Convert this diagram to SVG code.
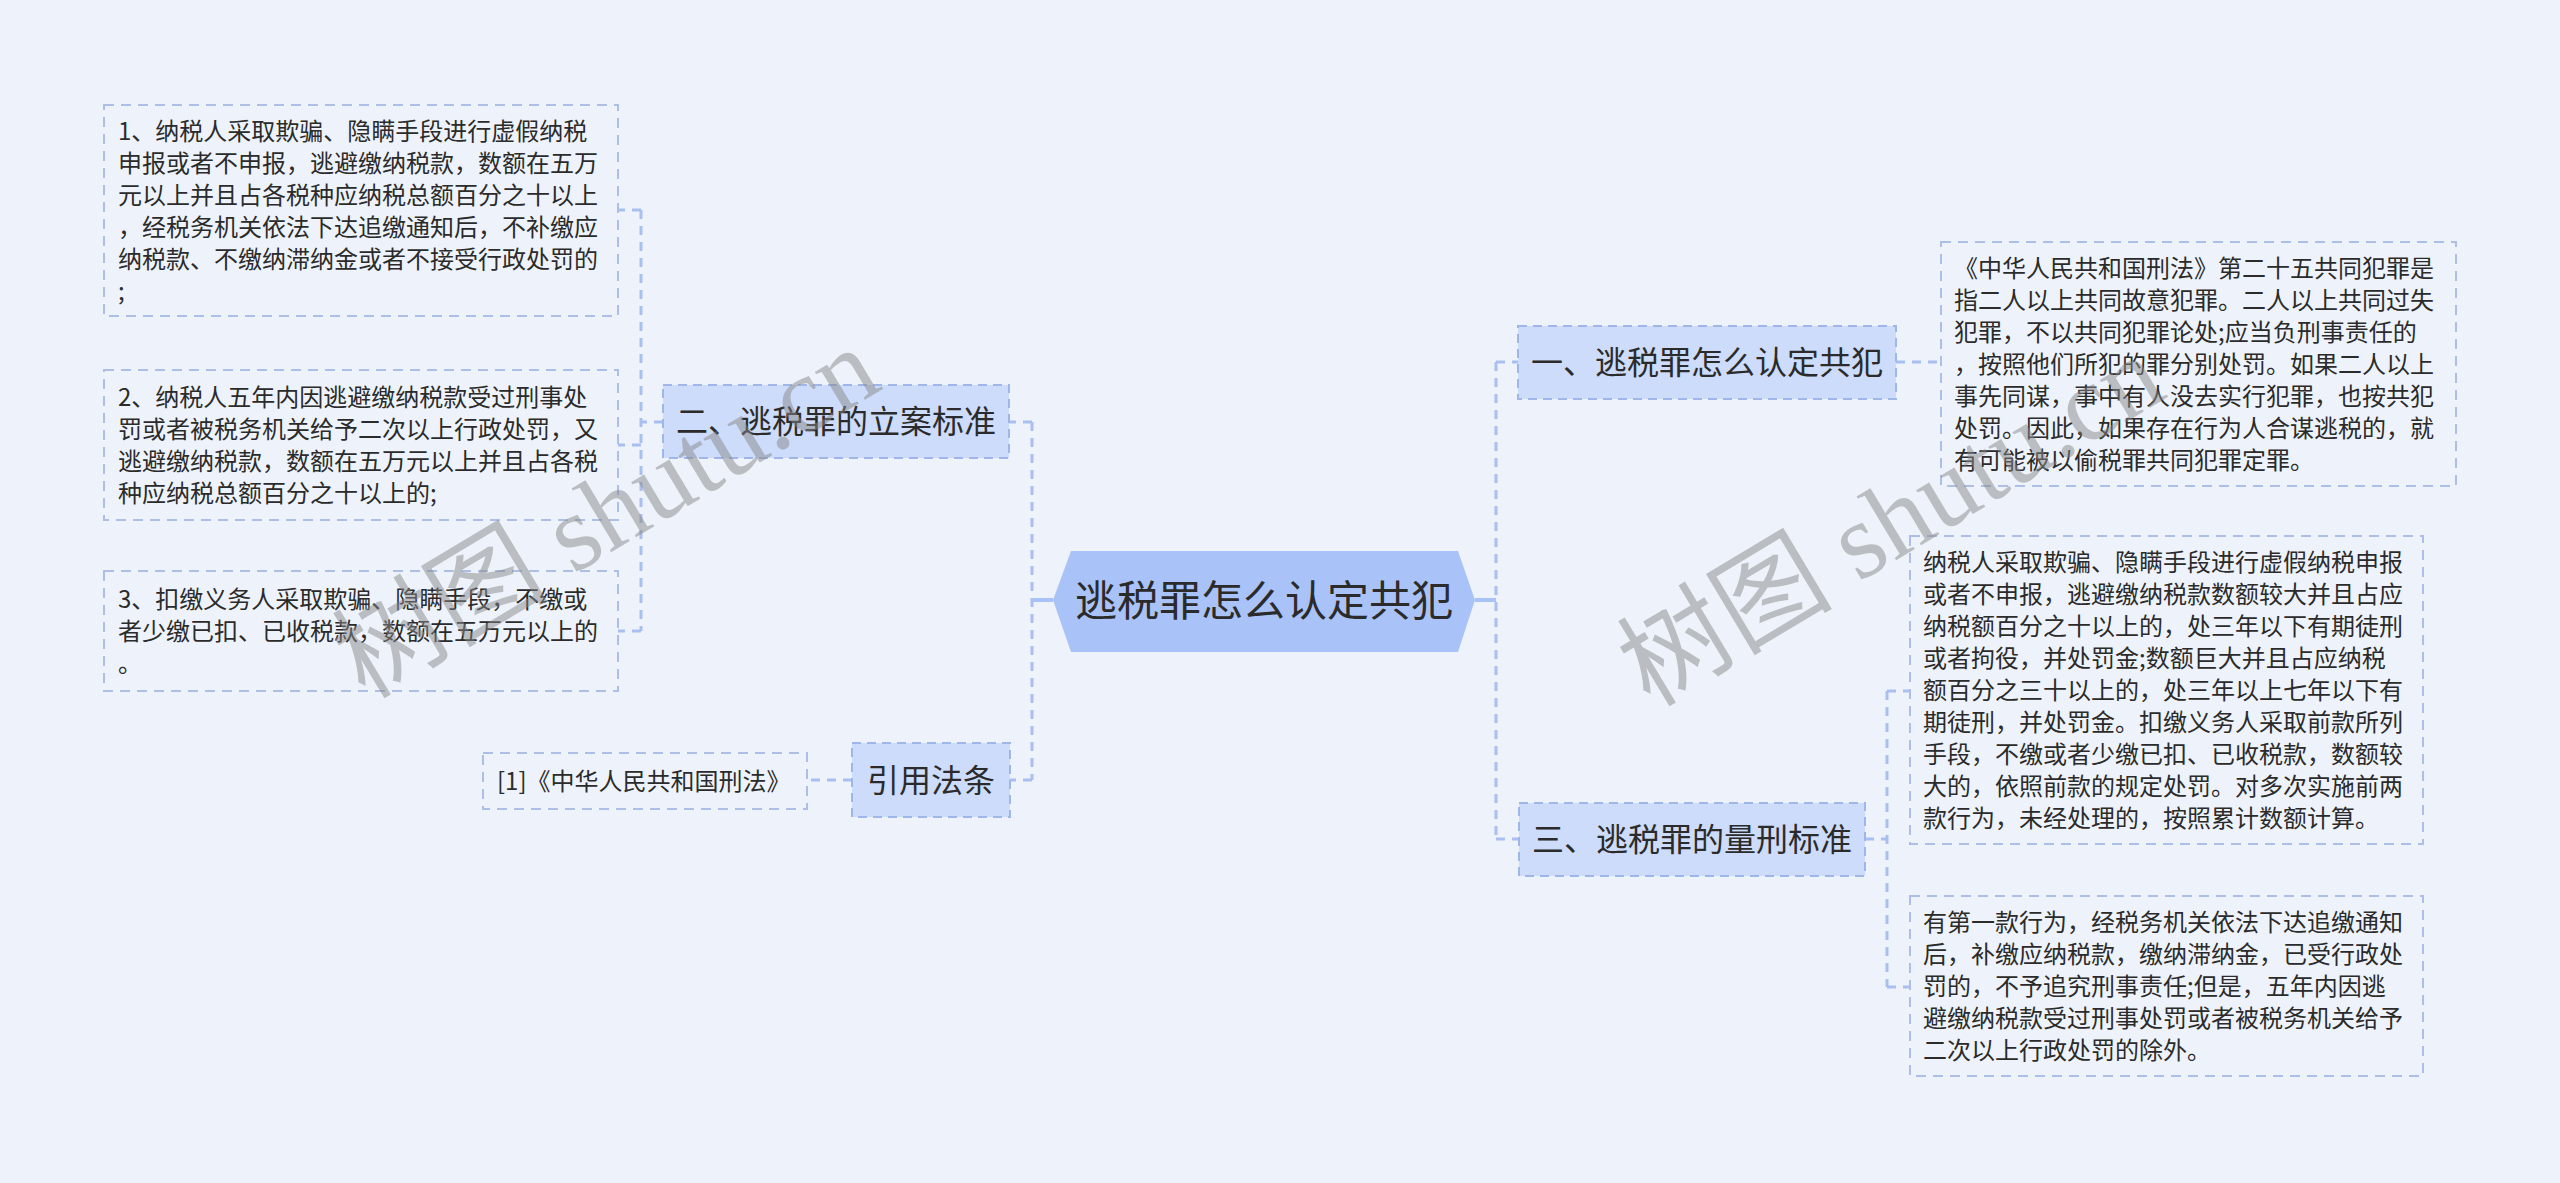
<svg xmlns="http://www.w3.org/2000/svg" width="2560" height="1183" viewBox="0 0 2560 1183">
<style>
.bg{fill:#eef3fb}
.conn{fill:none;stroke:#a9bff0;stroke-width:3;stroke-dasharray:9 7}
.solid{fill:none;stroke:#a9c3f8;stroke-width:4}
.topic rect{fill:#cddcfa;stroke:#9fb6e8;stroke-width:2;stroke-dasharray:9 6}
.leaf rect{fill:none;stroke:#adbfe6;stroke-width:2;stroke-dasharray:10 7}
.t{font-family:"Noto Sans CJK SC","Noto Sans",sans-serif;fill:#2b2b2b}
.tl{font-size:24px}
.tt{font-size:32px;text-anchor:middle}
.tc{font-size:42px;text-anchor:middle}
.wm{font-family:"Liberation Serif","Noto Sans CJK SC",serif;font-size:108px;fill:#888888;opacity:0.5}
</style>
<rect class="bg" x="0" y="0" width="2560" height="1183"/>

<g id="connectors">
  <path class="solid" d="M1053,600 H1032"/>
  <path class="solid" d="M1475,600 H1496"/>
  <path class="conn" d="M1032,422 V780"/>
  <path class="conn" d="M1032,422 H1009"/>
  <path class="conn" d="M1032,780 H1010"/>
  <path class="conn" d="M663,422 H641"/>
  <path class="conn" d="M641,210 V631"/>
  <path class="conn" d="M641,210 H618"/>
  <path class="conn" d="M641,445 H618"/>
  <path class="conn" d="M641,631 H618"/>
  <path class="conn" d="M852,780 H807"/>
  <path class="conn" d="M1496,362 V839"/>
  <path class="conn" d="M1496,362 H1518"/>
  <path class="conn" d="M1496,839 H1519"/>
  <path class="conn" d="M1896,362 H1941"/>
  <path class="conn" d="M1865,839 H1887"/>
  <path class="conn" d="M1887,691 V987"/>
  <path class="conn" d="M1887,691 H1910"/>
  <path class="conn" d="M1887,987 H1910"/>
</g>

<g id="center">
  <polygon points="1053,600 1071,551 1458,551 1475,600 1458,652 1071,652" fill="#a9c3f8"/>
  <text class="t tc" x="1264" y="616">逃税罪怎么认定共犯</text>
</g>

<g id="topic-2" class="topic">
  <rect x="663" y="385" width="346" height="73"/>
  <text class="t tt" x="836" y="433">二、逃税罪的立案标准</text>
</g>
<g id="topic-ref" class="topic">
  <rect x="852" y="743" width="158" height="74"/>
  <text class="t tt" x="931" y="792">引用法条</text>
</g>
<g id="topic-1" class="topic">
  <rect x="1518" y="326" width="378" height="73"/>
  <text class="t tt" x="1707" y="374">一、逃税罪怎么认定共犯</text>
</g>
<g id="topic-3" class="topic">
  <rect x="1519" y="803" width="346" height="73"/>
  <text class="t tt" x="1692" y="851">三、逃税罪的量刑标准</text>
</g>

<g id="leaf-2-1" class="leaf">
  <rect x="104" y="105" width="514" height="211"/>
  <text class="t tl">
    <tspan x="118" y="140">1、纳税人采取欺骗、隐瞒手段进行虚假纳税</tspan>
    <tspan x="118" y="172">申报或者不申报，逃避缴纳税款，数额在五万</tspan>
    <tspan x="118" y="204">元以上并且占各税种应纳税总额百分之十以上</tspan>
    <tspan x="118" y="236">，经税务机关依法下达追缴通知后，不补缴应</tspan>
    <tspan x="118" y="268">纳税款、不缴纳滞纳金或者不接受行政处罚的</tspan>
    <tspan x="118" y="300">;</tspan>
  </text>
</g>
<g id="leaf-2-2" class="leaf">
  <rect x="104" y="370" width="514" height="150"/>
  <text class="t tl">
    <tspan x="118" y="406">2、纳税人五年内因逃避缴纳税款受过刑事处</tspan>
    <tspan x="118" y="438">罚或者被税务机关给予二次以上行政处罚，又</tspan>
    <tspan x="118" y="470">逃避缴纳税款，数额在五万元以上并且占各税</tspan>
    <tspan x="118" y="502">种应纳税总额百分之十以上的;</tspan>
  </text>
</g>
<g id="leaf-2-3" class="leaf">
  <rect x="104" y="571" width="514" height="120"/>
  <text class="t tl">
    <tspan x="118" y="608">3、扣缴义务人采取欺骗、隐瞒手段，不缴或</tspan>
    <tspan x="118" y="640">者少缴已扣、已收税款，数额在五万元以上的</tspan>
    <tspan x="118" y="672">。</tspan>
  </text>
</g>
<g id="leaf-ref" class="leaf">
  <rect x="483" y="753" width="324" height="56"/>
  <text class="t tl" x="497" y="790">[1]《中华人民共和国刑法》</text>
</g>
<g id="leaf-1" class="leaf">
  <rect x="1941" y="242" width="515" height="244"/>
  <text class="t tl">
    <tspan x="1954" y="277">《中华人民共和国刑法》第二十五共同犯罪是</tspan>
    <tspan x="1954" y="309">指二人以上共同故意犯罪。二人以上共同过失</tspan>
    <tspan x="1954" y="341">犯罪，不以共同犯罪论处;应当负刑事责任的</tspan>
    <tspan x="1954" y="373">，按照他们所犯的罪分别处罚。如果二人以上</tspan>
    <tspan x="1954" y="405">事先同谋，事中有人没去实行犯罪，也按共犯</tspan>
    <tspan x="1954" y="437">处罚。因此，如果存在行为人合谋逃税的，就</tspan>
    <tspan x="1954" y="469">有可能被以偷税罪共同犯罪定罪。</tspan>
  </text>
</g>
<g id="leaf-3-1" class="leaf">
  <rect x="1910" y="536" width="513" height="308"/>
  <text class="t tl">
    <tspan x="1923" y="571">纳税人采取欺骗、隐瞒手段进行虚假纳税申报</tspan>
    <tspan x="1923" y="603">或者不申报，逃避缴纳税款数额较大并且占应</tspan>
    <tspan x="1923" y="635">纳税额百分之十以上的，处三年以下有期徒刑</tspan>
    <tspan x="1923" y="667">或者拘役，并处罚金;数额巨大并且占应纳税</tspan>
    <tspan x="1923" y="699">额百分之三十以上的，处三年以上七年以下有</tspan>
    <tspan x="1923" y="731">期徒刑，并处罚金。扣缴义务人采取前款所列</tspan>
    <tspan x="1923" y="763">手段，不缴或者少缴已扣、已收税款，数额较</tspan>
    <tspan x="1923" y="795">大的，依照前款的规定处罚。对多次实施前两</tspan>
    <tspan x="1923" y="827">款行为，未经处理的，按照累计数额计算。</tspan>
  </text>
</g>
<g id="leaf-3-2" class="leaf">
  <rect x="1910" y="896" width="513" height="180"/>
  <text class="t tl">
    <tspan x="1923" y="931">有第一款行为，经税务机关依法下达追缴通知</tspan>
    <tspan x="1923" y="963">后，补缴应纳税款，缴纳滞纳金，已受行政处</tspan>
    <tspan x="1923" y="995">罚的，不予追究刑事责任;但是，五年内因逃</tspan>
    <tspan x="1923" y="1027">避缴纳税款受过刑事处罚或者被税务机关给予</tspan>
    <tspan x="1923" y="1059">二次以上行政处罚的除外。</tspan>
  </text>
</g>

<g id="watermarks">
  <text class="wm" x="365" y="700" transform="rotate(-31 365 700)">树图 shutu.cn</text>
  <text class="wm" x="1650" y="708" transform="rotate(-31 1650 708)">树图 shutu.cn</text>
</g>
</svg>
